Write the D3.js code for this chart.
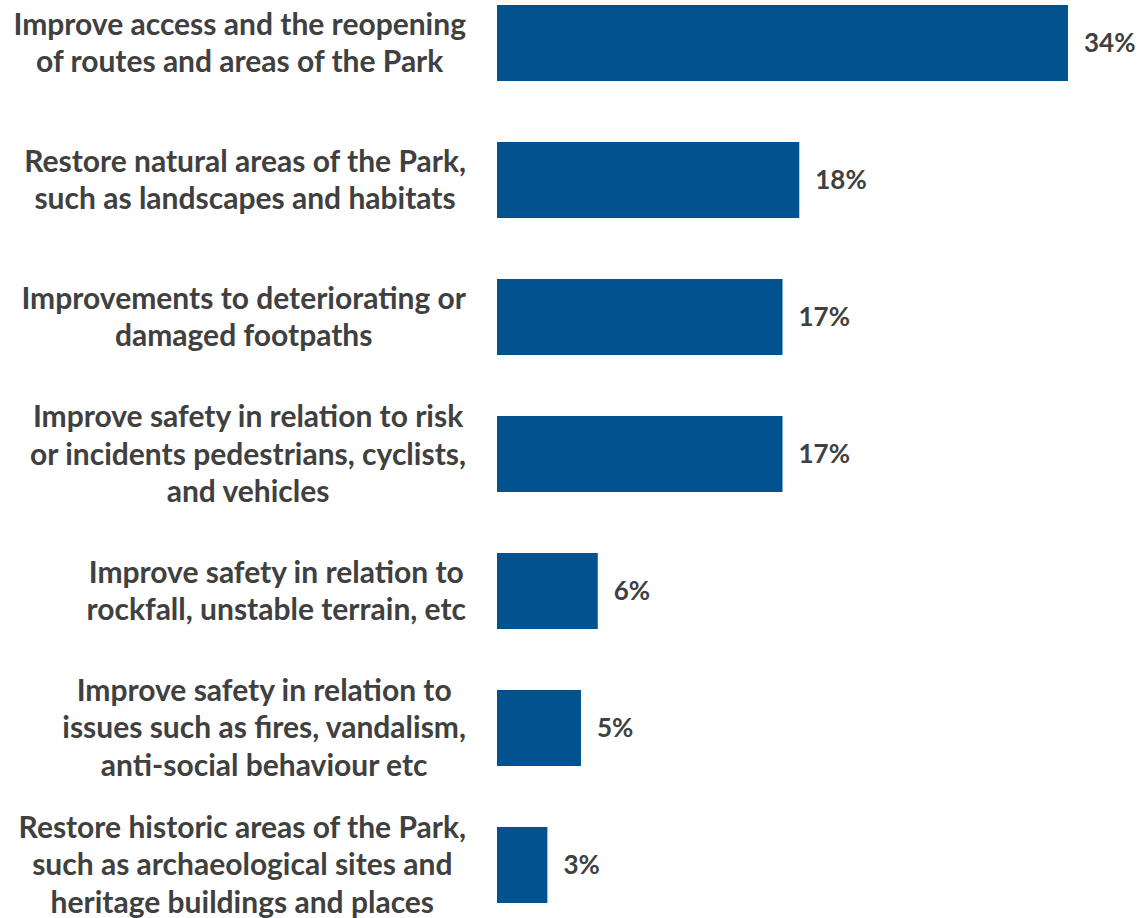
<!DOCTYPE html>
<html>
<head>
<meta charset="utf-8">
<script src="https://cdn.jsdelivr.net/npm/d3@7"></script>
<style>
  html, body { margin: 0; padding: 0; background: #ffffff; }
  svg { display: block; }
  text { font-family: "Lato", "Open Sans", sans-serif; font-weight: 700; fill: #404040; }
</style>
</head>
<body>
<svg id="chart" width="1138" height="918"></svg>
<script>
// Category labels, one entry per line of wrapped text
const categories = [
  ["Improve access and the reopening", "of routes and areas of the Park"],
  ["Restore natural areas of the Park,", "such as landscapes and habitats"],
  ["Improvements to deteriorating or", "damaged footpaths"],
  ["Improve safety in relation to risk", "or incidents pedestrians, cyclists,", "and vehicles"],
  ["Improve safety in relation to", "rockfall, unstable terrain, etc"],
  ["Improve safety in relation to", "issues such as fires, vandalism,", "anti-social behaviour etc"],
  ["Restore historic areas of the Park,", "such as archaeological sites and", "heritage buildings and places"]
];
const values = [34, 18, 17, 17, 6, 5, 3];

const svg = d3.select("#chart");
const labelFontSize = 30;
const valueFontSize = 26;
const lineHeight = 37.5;
const axisX = 497;
const labelRight = 466;

const y = d3.scaleBand()
  .domain(d3.range(categories.length))
  .range([5, 903])
  .paddingInner(0.445)
  .paddingOuter(0);

const x = d3.scaleLinear()
  .domain([0, d3.max(values)])
  .range([axisX, 1068]);

// Bars
svg.append("g").selectAll("rect")
  .data(values)
  .join("rect")
  .attr("x", x(0))
  .attr("y", (d, i) => y(i))
  .attr("width", d => x(d) - x(0))
  .attr("height", y.bandwidth())
  .attr("fill", "#01528f");

// Value labels
svg.append("g").selectAll("text")
  .data(values)
  .join("text")
  .attr("x", d => x(d) + 16)
  .attr("y", (d, i) => y(i) + y.bandwidth() / 2)
  .attr("dy", "0.36em")
  .style("font-size", valueFontSize + "px")
  .text(d => d + "%");

// Category labels: lines centred on each other, block right-aligned to the axis
const labelG = svg.append("g");
categories.forEach((lines, i) => {
  const g = labelG.append("g");
  const cy = y(i) + y.bandwidth() / 2;
  const texts = lines.map((line, j) =>
    g.append("text")
      .style("font-size", labelFontSize + "px")
      .attr("text-anchor", "middle")
      .attr("y", cy + (j - (lines.length - 1) / 2) * lineHeight)
      .attr("dy", "0.35em")
      .text(line)
  );
  const maxW = d3.max(texts, t => t.node().getComputedTextLength());
  texts.forEach(t => t.attr("x", labelRight - maxW / 2));
});
</script>
</body>
</html>
